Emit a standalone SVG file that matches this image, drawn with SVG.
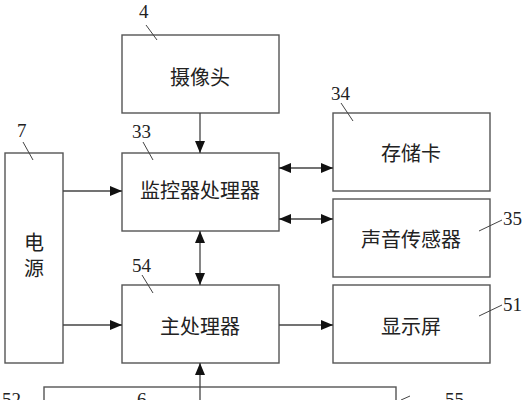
<svg xmlns="http://www.w3.org/2000/svg" width="526" height="400" viewBox="0 0 526 400">
<defs>
<style>
.box{fill:#fff;stroke:#555;stroke-width:1.4}
.ln{fill:none;stroke:#444;stroke-width:1.3}
.ld{fill:none;stroke:#444;stroke-width:1}
.t{font-family:"Noto Sans CJK SC",sans-serif;font-size:20px;fill:#222;text-anchor:middle;dominant-baseline:central}
.n{font-family:"Liberation Serif",serif;font-size:19px;fill:#222}
</style>
<marker id="ah" viewBox="0 0 12 10" refX="12" refY="5" markerWidth="12" markerHeight="10" markerUnits="userSpaceOnUse" orient="auto-start-reverse">
<path d="M0,0 L12,5 L0,10 Z" fill="#111"/>
</marker>
</defs>
<rect width="526" height="400" fill="#fff"/>
<g id="camera"><rect class="box" x="122" y="35" width="157" height="78"/><text class="t" x="200" y="76">摄像头</text><text class="n" x="139" y="18">4</text><line class="ld" x1="146" y1="25" x2="157" y2="40"/></g>
<g id="monitor"><rect class="box" x="122" y="153" width="157" height="78"/><text class="t" x="200" y="189">监控器处理器</text><text class="n" x="132" y="138">33</text><line class="ld" x1="143" y1="142" x2="153" y2="160"/></g>
<g id="power"><rect class="box" x="5" y="153" width="58" height="210"/><text x="34" y="232" style="font-family:'Noto Sans CJK SC',sans-serif;font-size:20px;fill:#222;writing-mode:vertical-rl;letter-spacing:6px">电源</text><text class="n" x="17" y="137">7</text><line class="ld" x1="23" y1="142" x2="33" y2="160"/></g>
<g id="storage"><rect class="box" x="333" y="113" width="157" height="78"/><text class="t" x="411" y="152">存储卡</text><text class="n" x="331" y="100">34</text><line class="ld" x1="341" y1="103" x2="353" y2="121"/></g>
<g id="sound"><rect class="box" x="333" y="199" width="157" height="78"/><text class="t" x="411" y="238">声音传感器</text><text class="n" x="503" y="225">35</text><line class="ld" x1="479" y1="231" x2="502" y2="220"/></g>
<g id="main"><rect class="box" x="122" y="285" width="157" height="78"/><text class="t" x="200" y="325">主处理器</text><text class="n" x="132" y="272">54</text><line class="ld" x1="142" y1="275" x2="153" y2="293"/></g>
<g id="display"><rect class="box" x="333" y="285" width="157" height="78"/><text class="t" x="411" y="325">显示屏</text><text class="n" x="503" y="311">51</text><line class="ld" x1="479" y1="316" x2="502" y2="305"/></g>
<g id="bottom"><rect class="box" x="44" y="387" width="352" height="40"/><text class="n" x="2" y="406">52</text><text class="n" x="137" y="406">6</text><text class="n" x="445" y="406">55</text><line class="ld" x1="401" y1="400" x2="410" y2="396"/></g>
<g id="connectors">
<line class="ln" x1="200" y1="113" x2="200" y2="153" marker-end="url(#ah)"/>
<line class="ln" x1="63" y1="191" x2="122" y2="191" marker-end="url(#ah)"/>
<line class="ln" x1="63" y1="325" x2="122" y2="325" marker-end="url(#ah)"/>
<line class="ln" x1="279" y1="168" x2="333" y2="168" marker-start="url(#ah)" marker-end="url(#ah)"/>
<line class="ln" x1="279" y1="219" x2="333" y2="219" marker-start="url(#ah)" marker-end="url(#ah)"/>
<line class="ln" x1="200" y1="231" x2="200" y2="285" marker-start="url(#ah)" marker-end="url(#ah)"/>
<line class="ln" x1="279" y1="325" x2="333" y2="325" marker-end="url(#ah)"/>
<line class="ln" x1="200" y1="400" x2="200" y2="363" marker-end="url(#ah)"/>
</g>
</svg>
